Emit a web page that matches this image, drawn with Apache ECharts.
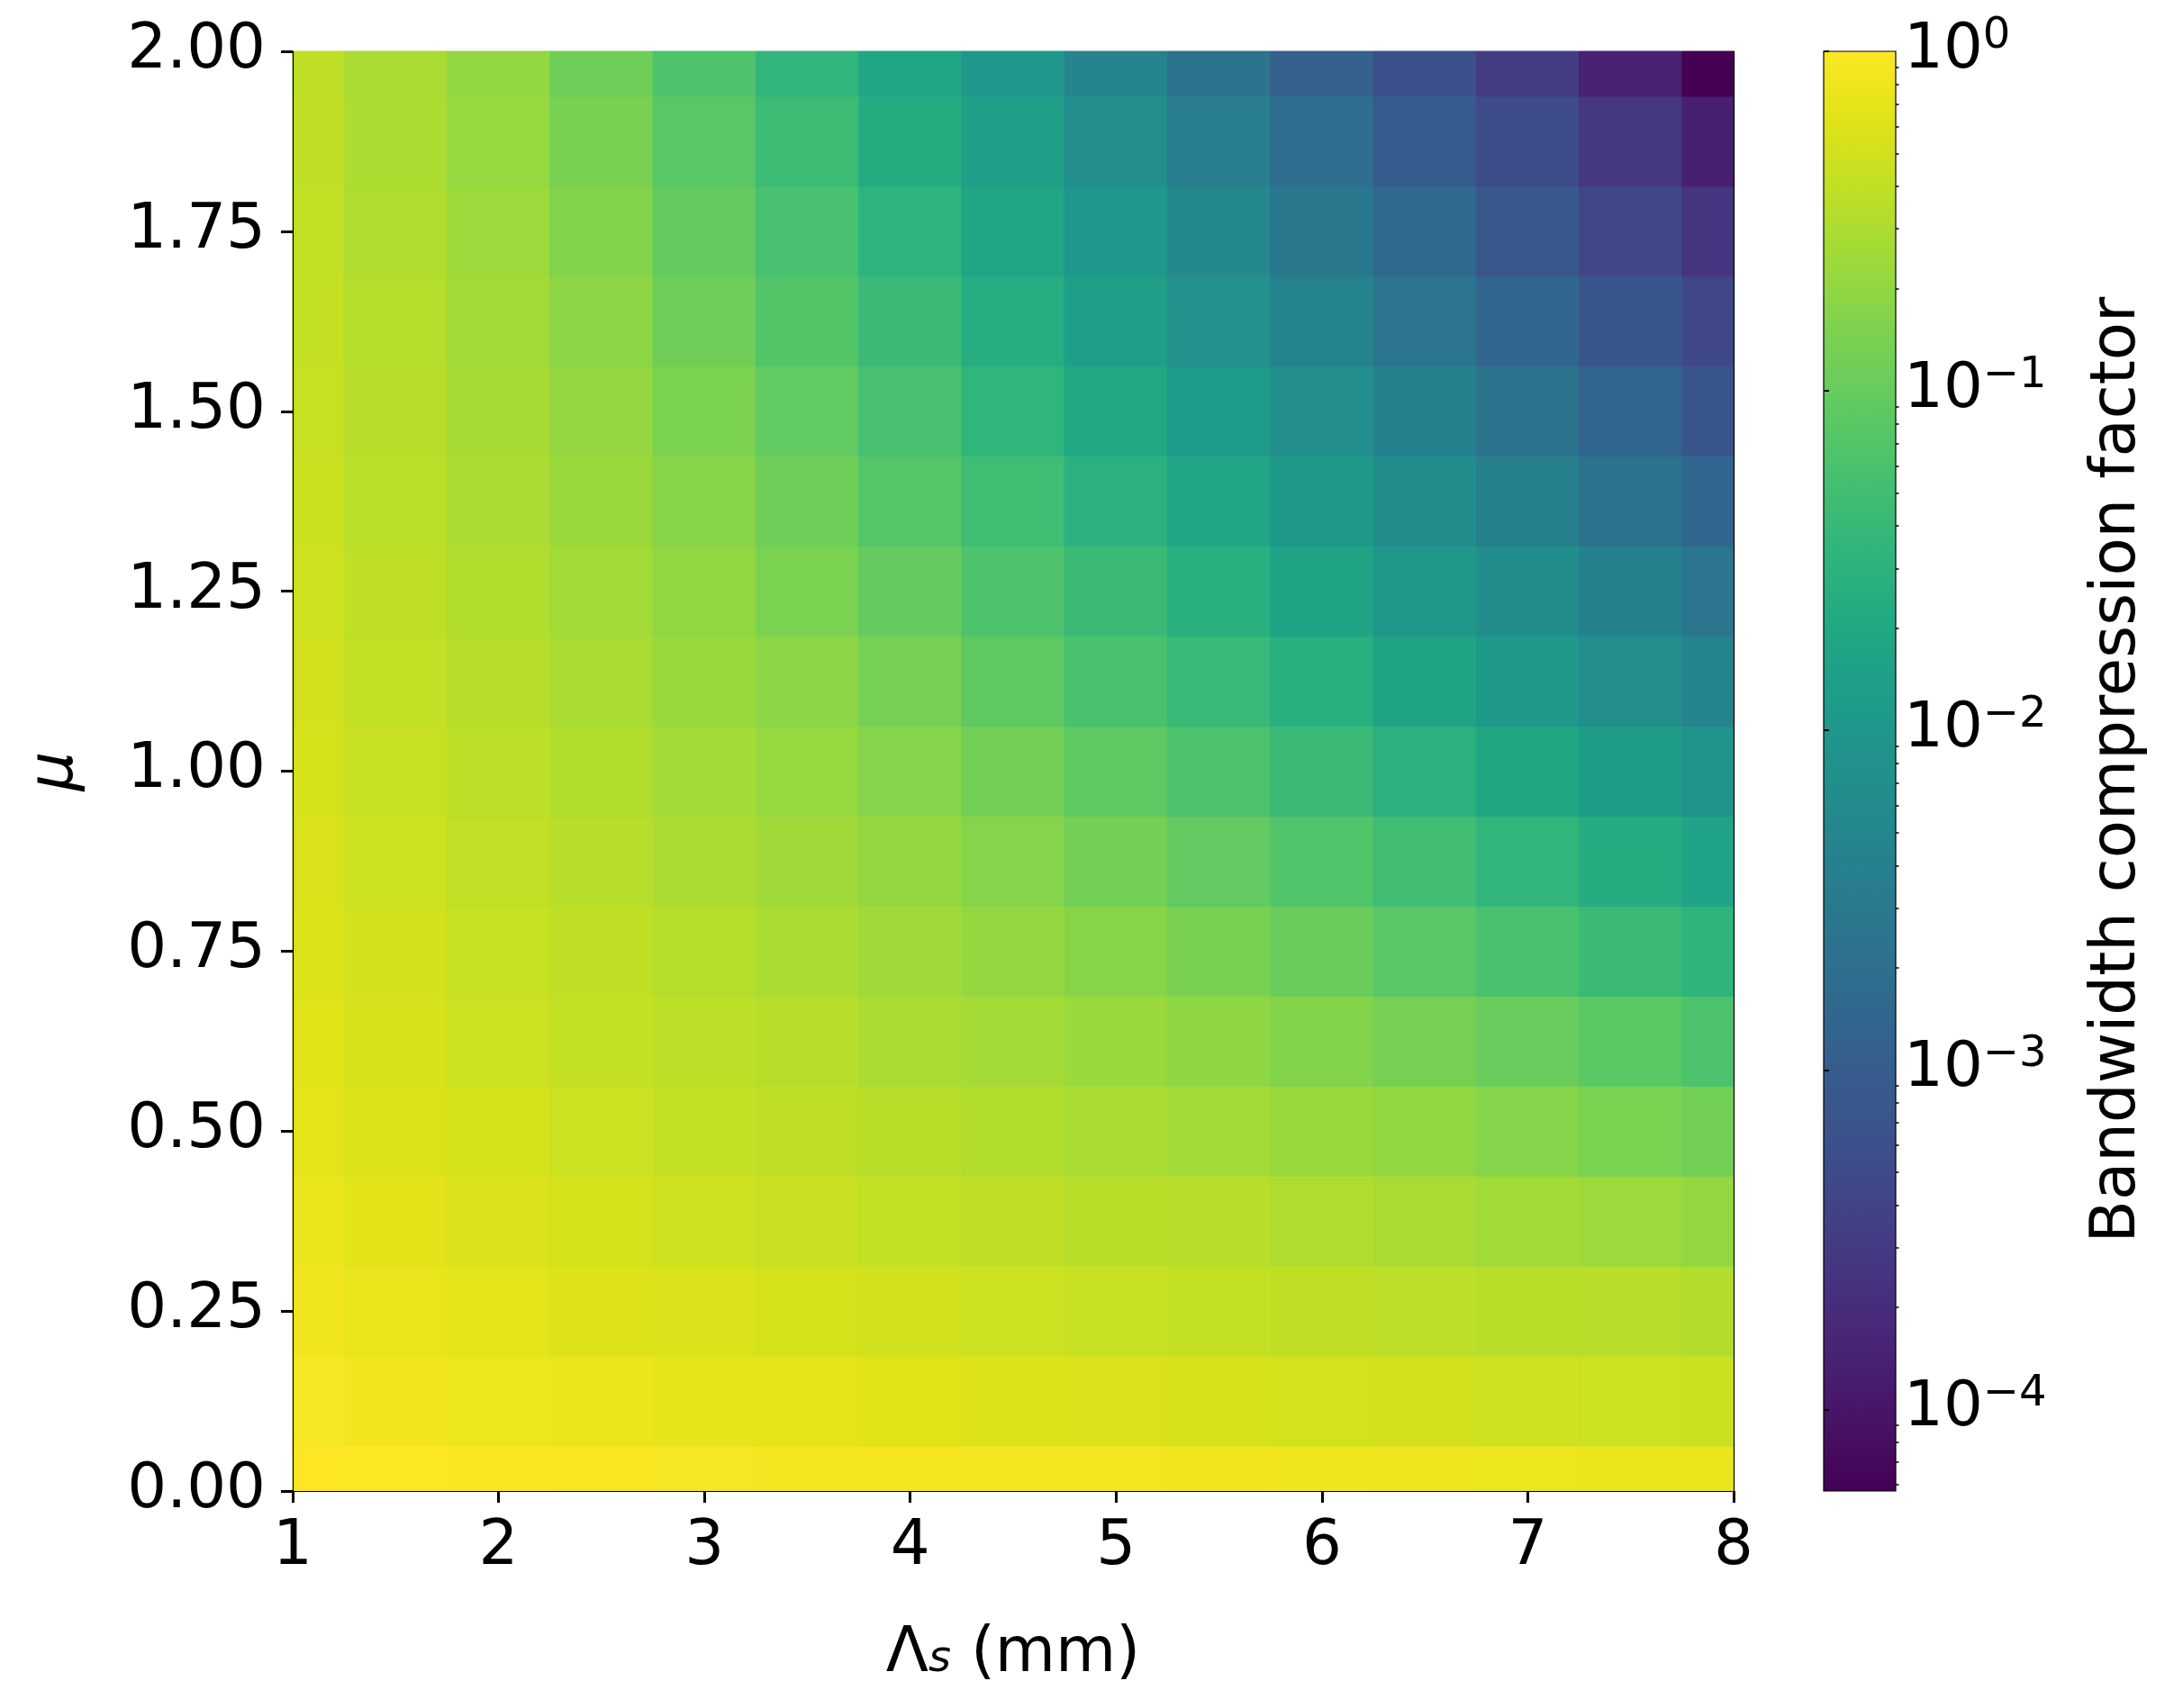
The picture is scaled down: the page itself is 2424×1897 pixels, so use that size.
<!DOCTYPE html>
<html>
<head>
<meta charset="utf-8">
<script src="https://cdn.jsdelivr.net/npm/echarts@6/dist/echarts.min.js"></script>
<style>
  html, body { margin: 0; padding: 0; background: #fff; }
  #chart { width: 2424px; height: 1897px; }
</style>
</head>
<body>
<div id="chart"></div>
<script>
// grid nodes
const lambdaValues = [1, 1.5, 2, 2.5, 3, 3.5, 4, 4.5, 5, 5.5, 6, 6.5, 7, 7.5, 8]
const muValues = [0, 0.125, 0.25, 0.375, 0.5, 0.625, 0.75, 0.875, 1, 1.125, 1.25, 1.375, 1.5, 1.625, 1.75, 1.875, 2]

// log10 of the bandwidth compression factor, one row per mu (bottom to top)
const log10Factor = [
  [0, -0.01, -0.02, -0.03, -0.04, -0.05, -0.06, -0.06, -0.07, -0.08, -0.09, -0.10, -0.11, -0.12, -0.13],
  [-0.04, -0.08, -0.11, -0.13, -0.16, -0.18, -0.21, -0.23, -0.25, -0.27, -0.29, -0.30, -0.32, -0.33, -0.34],
  [-0.09, -0.14, -0.18, -0.22, -0.25, -0.28, -0.30, -0.33, -0.36, -0.38, -0.41, -0.43, -0.45, -0.47, -0.49],
  [-0.13, -0.19, -0.25, -0.28, -0.31, -0.35, -0.39, -0.42, -0.45, -0.47, -0.51, -0.55, -0.59, -0.63, -0.68],
  [-0.17, -0.24, -0.28, -0.33, -0.38, -0.42, -0.45, -0.50, -0.54, -0.59, -0.64, -0.70, -0.77, -0.84, -0.91],
  [-0.20, -0.27, -0.33, -0.38, -0.43, -0.47, -0.53, -0.58, -0.64, -0.71, -0.79, -0.87, -0.98, -1.09, -1.21],
  [-0.23, -0.30, -0.37, -0.42, -0.48, -0.54, -0.60, -0.68, -0.76, -0.85, -0.97, -1.10, -1.23, -1.36, -1.49],
  [-0.25, -0.33, -0.40, -0.46, -0.53, -0.60, -0.68, -0.78, -0.90, -1.03, -1.17, -1.31, -1.46, -1.62, -1.78],
  [-0.28, -0.36, -0.43, -0.50, -0.58, -0.67, -0.77, -0.90, -1.06, -1.21, -1.37, -1.53, -1.71, -1.89, -2.08],
  [-0.30, -0.39, -0.47, -0.55, -0.64, -0.74, -0.88, -1.05, -1.22, -1.39, -1.57, -1.76, -1.96, -2.15, -2.33],
  [-0.32, -0.42, -0.50, -0.59, -0.70, -0.84, -1.01, -1.19, -1.37, -1.57, -1.77, -1.98, -2.18, -2.38, -2.59],
  [-0.34, -0.44, -0.53, -0.64, -0.76, -0.94, -1.13, -1.32, -1.54, -1.75, -1.97, -2.18, -2.40, -2.63, -2.84],
  [-0.36, -0.46, -0.56, -0.68, -0.84, -1.04, -1.25, -1.47, -1.70, -1.93, -2.15, -2.39, -2.63, -2.87, -3.12],
  [-0.38, -0.48, -0.59, -0.73, -0.93, -1.15, -1.37, -1.61, -1.85, -2.09, -2.35, -2.60, -2.86, -3.11, -3.35],
  [-0.39, -0.51, -0.63, -0.79, -1.02, -1.25, -1.50, -1.75, -2.00, -2.27, -2.55, -2.81, -3.08, -3.34, -3.59],
  [-0.41, -0.53, -0.67, -0.86, -1.10, -1.35, -1.62, -1.88, -2.16, -2.46, -2.74, -3.02, -3.28, -3.56, -3.86],
  [-0.42, -0.55, -0.70, -0.93, -1.19, -1.46, -1.74, -2.01, -2.33, -2.63, -2.93, -3.20, -3.50, -3.84, -4.24]
]

// colour bar range (log10) and its labelled decades
const colorMin = -4.24
const colorMax = 0
const colorbarExponents = [-4, -3, -2, -1, 0]
const minorMultipliers = [2, 3, 4, 5, 6, 7, 8, 9]
const yTickValues = [0, 0.25, 0.5, 0.75, 1, 1.25, 1.5, 1.75, 2]

const viridis = [
  '#440154', '#471365', '#482475', '#463480', '#414487', '#3b528b', '#355f8d',
  '#2f6c8e', '#2a788e', '#25848e', '#21918c', '#1e9c89', '#22a884', '#2fb47c',
  '#44bf70', '#5ec962', '#7ad151', '#9bd93c', '#bddf26', '#dfe318', '#fde725'
]

const FONT = 'DejaVu Sans'
const FS = 69
const plot = { left: 325, top: 57, width: 1600, height: 1599 }
const cbar = { left: 2025, top: 57, width: 80, height: 1599 }

const data = []
log10Factor.forEach(function (row, i) {
  row.forEach(function (v, j) {
    data.push([lambdaValues[j], muValues[i], v])
  })
})
const halfW = (lambdaValues[1] - lambdaValues[0]) / 2
const halfH = (muValues[1] - muValues[0]) / 2

const minorTicks = []
for (let e = -5; e < 0; e++) {
  minorMultipliers.forEach(function (m) {
    const v = e + Math.log10(m)
    if (v >= colorMin && v <= colorMax) minorTicks.push(v)
  })
}

const chart = echarts.init(document.getElementById('chart'))
chart.setOption({
  animation: false,
  backgroundColor: '#fff',
  grid: [
    { left: plot.left, top: plot.top, width: plot.width, height: plot.height },
    { left: cbar.left, top: cbar.top, width: cbar.width, height: cbar.height }
  ],
  visualMap: {
    type: 'continuous',
    show: false,
    seriesIndex: 0,
    dimension: 2,
    min: colorMin,
    max: colorMax,
    inRange: { color: viridis }
  },
  xAxis: [
    {
      gridIndex: 0,
      type: 'value',
      min: 1,
      max: 8,
      interval: 1,
      z: 10,
      splitLine: { show: false },
      axisLine: { lineStyle: { color: '#000', width: 1.2 } },
      axisTick: { length: 13, lineStyle: { color: '#000', width: 3 } },
      axisLabel: { fontSize: FS, fontFamily: FONT, color: '#000', margin: 29 },
      name: '{n|Λ}{sub|s}{n| (mm)}',
      nameLocation: 'middle',
      nameGap: 148,
      nameTextStyle: {
        rich: {
          n: { fontSize: FS, fontFamily: FONT, color: '#000', padding: [0, 0, 10, 0] },
          sub: { fontSize: 48, fontFamily: FONT, fontStyle: 'italic', color: '#000' }
        }
      }
    },
    {
      gridIndex: 0,
      type: 'value',
      position: 'top',
      min: 1,
      max: 8,
      z: 10,
      splitLine: { show: false },
      axisLine: { lineStyle: { color: '#000', width: 1.2 } },
      axisTick: { show: false },
      axisLabel: { show: false }
    },
    { gridIndex: 1, type: 'value', min: 0, max: 1, show: false }
  ],
  yAxis: [
    {
      gridIndex: 0,
      type: 'value',
      min: 0,
      max: 2,
      interval: 0.25,
      z: 10,
      splitLine: { show: false },
      axisLine: { lineStyle: { color: '#000', width: 1.2 } },
      axisTick: { length: 13, lineStyle: { color: '#000', width: 3 } },
      axisLabel: {
        fontSize: FS,
        fontFamily: FONT,
        color: '#000',
        margin: 30,
        customValues: yTickValues,
        formatter: function (v) { return v.toFixed(2) }
      },
      name: 'μ',
      nameLocation: 'middle',
      nameRotate: 90,
      nameGap: 228,
      nameTextStyle: { fontSize: FS, fontFamily: FONT, fontStyle: 'italic', color: '#000' }
    },
    {
      gridIndex: 0,
      type: 'value',
      position: 'right',
      min: 0,
      max: 2,
      z: 10,
      splitLine: { show: false },
      axisLine: { lineStyle: { color: '#000', width: 1.2 } },
      axisTick: { show: false },
      axisLabel: { show: false }
    },
    {
      // colour bar: decades
      gridIndex: 1,
      type: 'value',
      position: 'right',
      min: colorMin,
      max: colorMax,
      z: 10,
      splitLine: { show: false },
      axisLine: { show: false },
      axisTick: { customValues: colorbarExponents, length: 6, lineStyle: { color: '#000', width: 2 } },
      axisLabel: {
        customValues: colorbarExponents,
        margin: 9,
        formatter: function (v) {
          const e = Math.round(v)
          return '{b|10}{s|' + (e === 0 ? '0' : '−' + (-e)) + '}'
        },
        rich: {
          b: { fontSize: FS, lineHeight: FS, fontFamily: FONT, color: '#000', verticalAlign: 'bottom' },
          s: { fontSize: 48, lineHeight: 48, fontFamily: FONT, color: '#000', verticalAlign: 'bottom', padding: [0, 0, 27, 0] }
        }
      }
    },
    {
      // colour bar: minor ticks
      gridIndex: 1,
      type: 'value',
      position: 'right',
      min: colorMin,
      max: colorMax,
      z: 10,
      splitLine: { show: false },
      axisLine: { show: false },
      axisTick: { customValues: minorTicks, length: 3.5, lineStyle: { color: '#000', width: 1.5 } },
      axisLabel: { show: false }
    }
  ],
  graphic: [
    {
      type: 'rect',
      z: 1,
      shape: { x: cbar.left, y: cbar.top, width: cbar.width, height: cbar.height },
      style: {
        fill: new echarts.graphic.LinearGradient(0, 1, 0, 0, viridis.map(function (c, i) {
          return { offset: i / (viridis.length - 1), color: c }
        })),
        stroke: '#000',
        lineWidth: 1.2
      }
    },
    {
      type: 'text',
      z: 10,
      x: 2352,
      y: 855,
      rotation: Math.PI / 2,
      style: {
        text: 'Bandwidth compression factor',
        fontSize: FS,
        fontFamily: FONT,
        fill: '#000',
        align: 'center',
        verticalAlign: 'middle'
      }
    }
  ],
  series: [
    {
      type: 'custom',
      xAxisIndex: 0,
      yAxisIndex: 0,
      z: 2,
      encode: { x: 0, y: 1 },
      data: data,
      renderItem: function (params, api) {
        const x = api.value(0)
        const y = api.value(1)
        const p0 = api.coord([x - halfW, y + halfH])
        const p1 = api.coord([x + halfW, y - halfH])
        const rect = echarts.graphic.clipRectByRect({
          x: p0[0], y: p0[1], width: p1[0] - p0[0], height: p1[1] - p0[1]
        }, {
          x: params.coordSys.x, y: params.coordSys.y,
          width: params.coordSys.width, height: params.coordSys.height
        })
        if (!rect) return
        const color = api.visual('color')
        return {
          type: 'rect',
          shape: rect,
          style: { fill: color, stroke: color, lineWidth: 1 }
        }
      }
    }
  ]
})
</script>
</body>
</html>
